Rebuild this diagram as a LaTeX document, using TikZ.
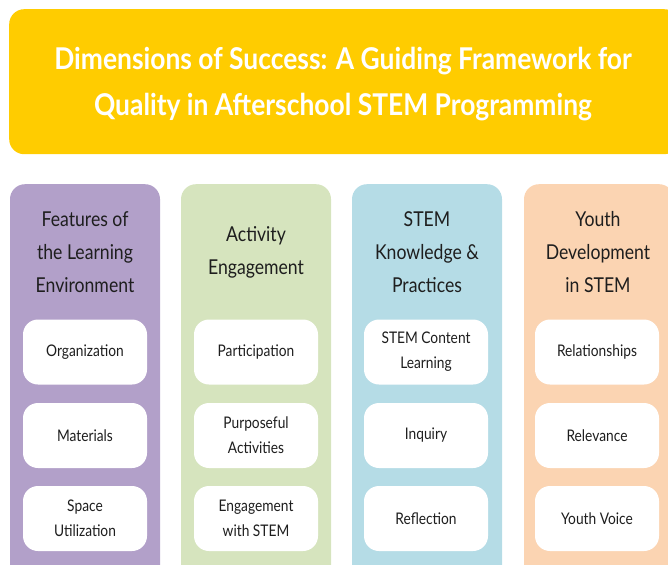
\documentclass[tikz,border=0pt]{standalone}
\usepackage{fontspec}
\setmainfont{Lato}[FakeStretch=0.86]
\newfontfamily\titlefont{Lato Bold}[FakeStretch=0.88]
\definecolor{titleyellow}{RGB}{255,204,0}
\definecolor{colpurple}{RGB}{178,160,201}
\definecolor{colgreen}{RGB}{214,228,190}
\definecolor{colblue}{RGB}{181,220,230}
\definecolor{colorange}{RGB}{251,212,178}
\definecolor{textdark}{RGB}{30,30,30}
\tikzset{
  titlebox/.style={fill=titleyellow, rounded corners=15pt, minimum width=670pt, minimum height=145pt, anchor=north west, inner sep=0pt},
  titletext/.style={text=white, font=\titlefont\fontsize{30}{46}\selectfont, align=center},
  column/.style={rounded corners=15pt, minimum width=150pt, minimum height=420pt, anchor=north, inner sep=0pt},
  headtext/.style={text=textdark, font=\fontsize{20.5}{33}\selectfont, align=center},
  itembox/.style={fill=white, rounded corners=15pt, minimum width=124pt, minimum height=65pt, inner sep=0pt, text=textdark, font=\fontsize{16}{25}\selectfont, align=center},
}
\begin{document}
\begin{tikzpicture}[x=1pt,y=-1pt]
\path[use as bounding box] (0,0) rectangle (668,564);
\clip (0,0) rectangle (668,564);
\node[titlebox] (title) at (9,9) {};
\node[titletext] (titlelabel) at (343,84) {Dimensions of Success: A Guiding Framework for\\Quality in Afterschool STEM Programming};
% columns
\node[column, fill=colpurple] (c1) at (85,184) {};
\node[column, fill=colgreen] (c2) at (256,184) {};
\node[column, fill=colblue] (c3) at (427,184) {};
\node[column, fill=colorange] (c4) at (599,184) {};
% headers
\node[headtext] (h1) at (85,252) {Features of\\the Learning\\Environment};
\node[headtext] (h2) at (256,252) {Activity\\Engagement};
\node[headtext] (h3) at (427,252) {STEM\\Knowledge \&\\Practices};
\node[headtext] (h4) at (598,252) {Youth\\Development\\in STEM};
% items
\node[itembox] (a1) at (85,352) {Organization};
\node[itembox] (a2) at (85,435.5) {Materials};
\node[itembox] (a3) at (85,518.5) {Space\\Utilization};
\node[itembox] (b1) at (256,352) {Participation};
\node[itembox] (b2) at (256,435.5) {Purposeful\\Activities};
\node[itembox] (b3) at (256,518.5) {Engagement\\with STEM};
\node[itembox] (d1) at (426,352) {STEM Content\\Learning};
\node[itembox] (d2) at (426,435.5) {Inquiry};
\node[itembox] (d3) at (426,518.5) {Reflection};
\node[itembox] (e1) at (597,352) {Relationships};
\node[itembox] (e2) at (597,435.5) {Relevance};
\node[itembox] (e3) at (597,518.5) {Youth Voice};
\end{tikzpicture}
\end{document}
